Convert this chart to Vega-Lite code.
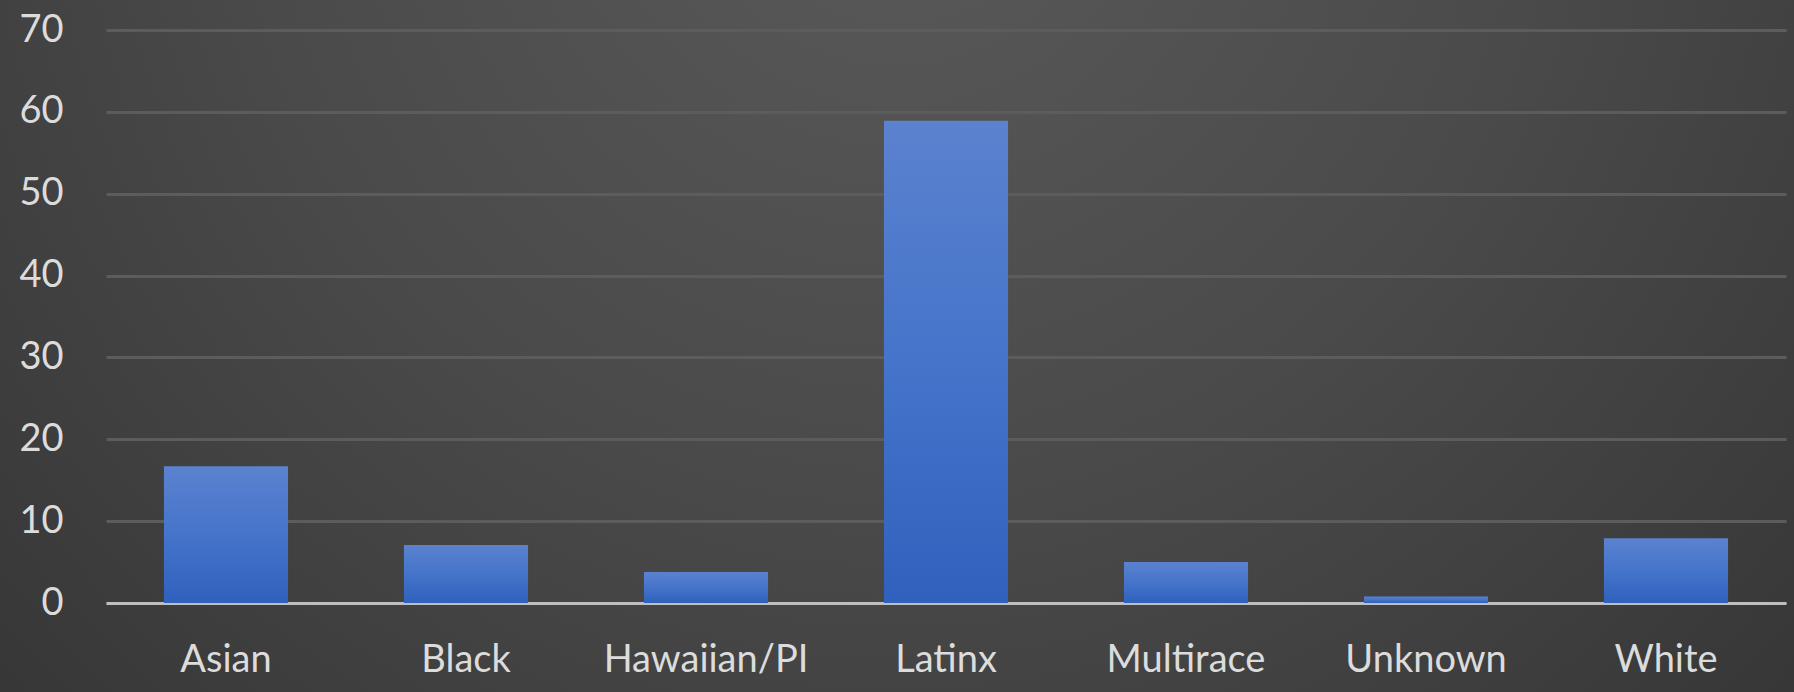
{
  "$schema": "https://vega.github.io/schema/vega-lite/v6.json",
  "autosize": {"type": "none"},
  "padding": 0,
  "width": 1794,
  "height": 692,
  "background": "#363636",
  "config": {
    "view": {
      "stroke": null,
      "fill": {
        "gradient": "radial",
        "x1": 0.5, "y1": 0.22, "r1": 0,
        "x2": 0.5, "y2": 0.22, "r2": 0.72,
        "stops": [
          {"offset": 0, "color": "#5a5a5a"},
          {"offset": 0.5, "color": "#4a4a4a"},
          {"offset": 1, "color": "#353535"}
        ]
      }
    },
    "font": "Lato",
    "axis": {
      "labelFont": "Lato",
      "labelColor": "#dcdcdc",
      "labelFontSize": 38,
      "labelLimit": 0,
      "ticks": false,
      "title": null
    }
  },
  "data": {
    "values": [
      {"group": "Asian", "value": 16.7},
      {"group": "Black", "value": 7.1},
      {"group": "Hawaiian/PI", "value": 3.8},
      {"group": "Latinx", "value": 58.9},
      {"group": "Multirace", "value": 5.0},
      {"group": "Unknown", "value": 0.8},
      {"group": "White", "value": 7.9}
    ]
  },
  "mark": {
    "type": "bar",
    "color": {
      "gradient": "linear",
      "x1": 0, "y1": 0, "x2": 0, "y2": 1,
      "stops": [
        {"offset": 0, "color": "#5b82cf"},
        {"offset": 0.5, "color": "#4574ca"},
        {"offset": 1, "color": "#2f61bd"}
      ]
    }
  },
  "encoding": {
    "x": {
      "field": "group",
      "type": "nominal",
      "sort": null,
      "scale": {"range": [106, 1786], "paddingInner": 0.483, "paddingOuter": 0.2415},
      "axis": {
        "offset": -89,
        "labelAngle": 0,
        "labelPadding": 38,
        "domain": true,
        "domainColor": "#bfbfbf",
        "domainWidth": 3,
        "grid": false
      }
    },
    "y": {
      "field": "value",
      "type": "quantitative",
      "scale": {"domain": [0, 70], "nice": false, "range": [603, 30]},
      "axis": {
        "offset": -106,
        "values": [0, 10, 20, 30, 40, 50, 60, 70],
        "domain": false,
        "grid": true,
        "gridColor": "#5c5c5c",
        "gridWidth": 3,
        "labelPadding": 43
      }
    }
  }
}
